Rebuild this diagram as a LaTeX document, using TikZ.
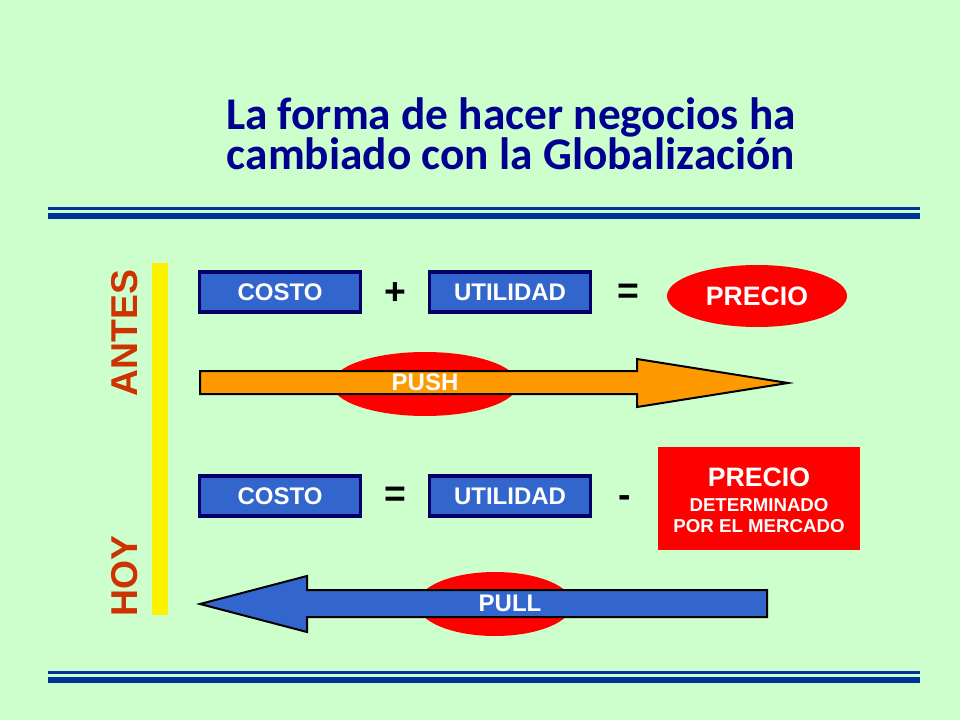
\documentclass[tikz,border=0pt]{standalone}
\usepackage{fontspec}
\setmainfont{Liberation Sans}
\newfontfamily\titlefont{Carlito}
\usetikzlibrary{shapes.geometric}
\definecolor{bgc}{HTML}{CCFFCC}
\definecolor{titc}{HTML}{000090}
\definecolor{rulec}{HTML}{003399}
\definecolor{boxc}{HTML}{3366CC}
\definecolor{boxedge}{HTML}{000066}
\definecolor{redc}{HTML}{FF0000}
\definecolor{orc}{HTML}{FF9900}
\definecolor{sidec}{HTML}{CC3300}
\tikzset{
  bluebox/.style={rectangle, fill=boxc, draw=boxedge, line width=2.5pt, minimum width=121pt, minimum height=30pt, inner sep=0pt, text=white, font=\bfseries\fontsize{18}{20}\selectfont},
  redoval/.style={ellipse, fill=redc, inner sep=0pt, text=white, font=\bfseries\fontsize{20}{22}\selectfont},
  optext/.style={font=\bfseries\fontsize{28}{30}\selectfont, text=black},
  sidetext/.style={rotate=90, text=sidec, font=\bfseries\fontsize{28}{30}\selectfont},
  titletext/.style={anchor=base, align=center, text=titc, inner sep=0pt, font=\titlefont\bfseries\fontsize{34}{30}\selectfont},
  arrowtext/.style={text=white, font=\bfseries\fontsize{18}{20}\selectfont},
  redtext/.style={anchor=base, text=white, inner sep=0pt},
  fatarrow/.style={draw=black, line width=1.5pt, line join=miter},
}
\begin{document}
\begin{tikzpicture}[x=0.75pt,y=-0.75pt]
\fill[bgc] (0,0) rectangle (960,720);
\useasboundingbox (0,0) rectangle (960,720);
% title (base anchor = baseline of the last line)
\node[titletext] (title) at (511,170) {La forma de hacer negocios ha\\cambiado con la Globalización};
% rules
\draw[rulec, line width=2.25pt] (48,208.5) -- (920,208.5);
\draw[rulec, line width=4.5pt] (48,216) -- (920,216);
\draw[rulec, line width=2.25pt] (48,672.5) -- (920,672.5);
\draw[rulec, line width=4.5pt] (48,680) -- (920,680);
% side bar and labels
\fill[yellow] (152,263) rectangle (168,615);
\node[sidetext] (antes) at (125,333) {ANTES};
\node[sidetext] (hoy) at (125,576) {HOY};
% top row
\node[bluebox] (costo1) at (280,292) {COSTO};
\node[optext] (plus) at (395,294) {+};
\node[bluebox] (util1) at (510,292) {UTILIDAD};
\node[optext] (eq1) at (628,294) {=};
\node[redoval, minimum width=135pt, minimum height=46.5pt] (precio1) at (757,296) {PRECIO};
% push
\node[ellipse, fill=redc, minimum width=139.5pt, minimum height=48pt] (pushov) at (425,384) {};
\draw[fatarrow, fill=orc] (200,371) -- (637,371) -- (637,359) -- (788,383) -- (637,407) -- (637,394) -- (200,394) -- cycle;
\node[arrowtext] (push) at (425,382) {PUSH};
% bottom row
\node[bluebox] (costo2) at (280,496) {COSTO};
\node[optext] (eq2) at (395,497) {=};
\node[bluebox] (util2) at (510,496) {UTILIDAD};
\node[optext] (minus) at (625,502) {-};
\node[rectangle, fill=redc, minimum width=151.5pt, minimum height=77pt, inner sep=0pt] (precio2) at (759,498.5) {};
\node[redtext, font=\bfseries\fontsize{20}{22}\selectfont] (pr2a) at (759,486) {PRECIO};
\node[redtext, font=\bfseries\fontsize{14}{15}\selectfont] (pr2b) at (759,511) {DETERMINADO};
\node[redtext, font=\bfseries\fontsize{14}{15}\selectfont] (pr2c) at (759,532) {POR EL MERCADO};
% pull
\node[ellipse, fill=redc, minimum width=116pt, minimum height=48pt] (pullov) at (495,604) {};
\draw[fatarrow, fill=boxc] (767,590) -- (307,590) -- (307,576) -- (200,604) -- (307,632) -- (307,617) -- (767,617) -- cycle;
\node[arrowtext] (pull) at (510,603) {PULL};
\end{tikzpicture}
\end{document}
